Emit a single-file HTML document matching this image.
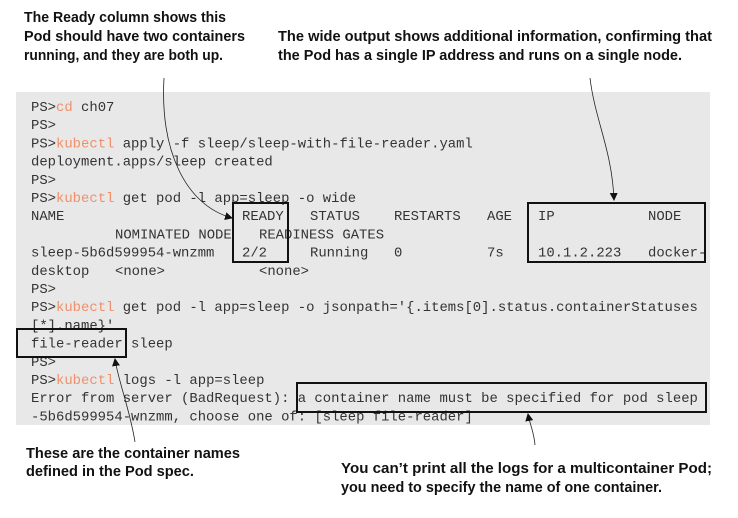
<!DOCTYPE html>
<html><head><meta charset="utf-8"><style>
html,body{margin:0;padding:0;background:#fff;width:738px;height:518px;overflow:hidden}
.m{font-family:"Liberation Mono",monospace;font-size:13.9px;fill:#333}
.o{fill:#f0906a}
.a{font-family:"Liberation Sans",sans-serif;font-weight:bold;font-size:14.5px;fill:#111}
</style></head><body>
<svg width="738" height="518" xmlns="http://www.w3.org/2000/svg">
<defs><marker id="ar" markerWidth="8" markerHeight="8" refX="7" refY="4" orient="auto" markerUnits="userSpaceOnUse"><path d="M0,0 L8,4 L0,8 z" fill="#111"/></marker></defs>
<rect x="16" y="92" width="694" height="333" fill="#e8e8e8"/>
<g class="m">
<text x="31" y="111">PS&gt;<tspan class="o">cd</tspan> ch07</text>
<text x="31" y="129.2">PS&gt;</text>
<text x="31" y="147.4">PS&gt;<tspan class="o">kubectl</tspan> apply -f sleep/sleep-with-file-reader.yaml</text>
<text x="31" y="165.6">deployment.apps/sleep created</text>
<text x="31" y="183.8">PS&gt;</text>
<text x="31" y="202">PS&gt;<tspan class="o">kubectl</tspan> get pod -l app=sleep -o wide</text>
<text x="31" y="220.2">NAME</text><text x="242" y="220.2">READY</text><text x="310" y="220.2">STATUS</text><text x="394" y="220.2">RESTARTS</text><text x="487" y="220.2">AGE</text><text x="538" y="220.2">IP</text><text x="648" y="220.2">NODE</text>
<text x="115" y="238.4">NOMINATED NODE</text><text x="259" y="238.4">READINESS GATES</text>
<text x="31" y="256.6">sleep-5b6d599954-wnzmm</text><text x="242" y="256.6">2/2</text><text x="310" y="256.6">Running</text><text x="394" y="256.6">0</text><text x="487" y="256.6">7s</text><text x="538" y="256.6">10.1.2.223</text><text x="648" y="256.6">docker-</text>
<text x="31" y="274.8">desktop</text><text x="115" y="274.8">&lt;none&gt;</text><text x="259" y="274.8">&lt;none&gt;</text>
<text x="31" y="293">PS&gt;</text>
<text x="31" y="311.2">PS&gt;<tspan class="o">kubectl</tspan> get pod -l app=sleep -o jsonpath='{.items[0].status.containerStatuses</text>
<text x="31" y="329.4">[*].name}'</text>
<text x="31" y="347.6">file-reader sleep</text>
<text x="31" y="365.8">PS&gt;</text>
<text x="31" y="384">PS&gt;<tspan class="o">kubectl</tspan> logs -l app=sleep</text>
<text x="31" y="402.2">Error from server (BadRequest): a container name must be specified for pod sleep</text>
<text x="31" y="420.4">-5b6d599954-wnzmm, choose one of: [sleep file-reader]</text>
</g>
<g fill="none" stroke="#111" stroke-width="2">
<rect x="233" y="203" width="55" height="59"/>
<rect x="528" y="203" width="177" height="59"/>
<rect x="17" y="329" width="109" height="28"/>
<rect x="297" y="383" width="409" height="29"/>
</g>
<g fill="none" stroke="#222" stroke-width="0.8">
<path d="M164,78 C160,150 185,205 232,218" marker-end="url(#ar)"/>
<path d="M590,78 C595,120 612,150 614,200" marker-end="url(#ar)"/>
<path d="M135,442 C130,410 118,380 115,359" marker-end="url(#ar)"/>
<path d="M535,445 C534,432 530,425 528,414" marker-end="url(#ar)"/>
</g>
<g class="a">
<text x="24" y="22" textLength="202" lengthAdjust="spacingAndGlyphs">The Ready column shows this</text>
<text x="24" y="41" textLength="221" lengthAdjust="spacingAndGlyphs">Pod should have two containers</text>
<text x="24" y="60" textLength="199" lengthAdjust="spacingAndGlyphs">running, and they are both up.</text>
<text x="278" y="41" textLength="434" lengthAdjust="spacingAndGlyphs">The wide output shows additional information, confirming that</text>
<text x="278" y="60" textLength="404" lengthAdjust="spacingAndGlyphs">the Pod has a single IP address and runs on a single node.</text>
<text x="26" y="458" textLength="214" lengthAdjust="spacingAndGlyphs">These are the container names</text>
<text x="26" y="476" textLength="168" lengthAdjust="spacingAndGlyphs">defined in the Pod spec.</text>
<text x="341" y="473" textLength="371" lengthAdjust="spacingAndGlyphs">You can’t print all the logs for a multicontainer Pod;</text>
<text x="341" y="492" textLength="321" lengthAdjust="spacingAndGlyphs">you need to specify the name of one container.</text>
</g>
</svg>
</body></html>
